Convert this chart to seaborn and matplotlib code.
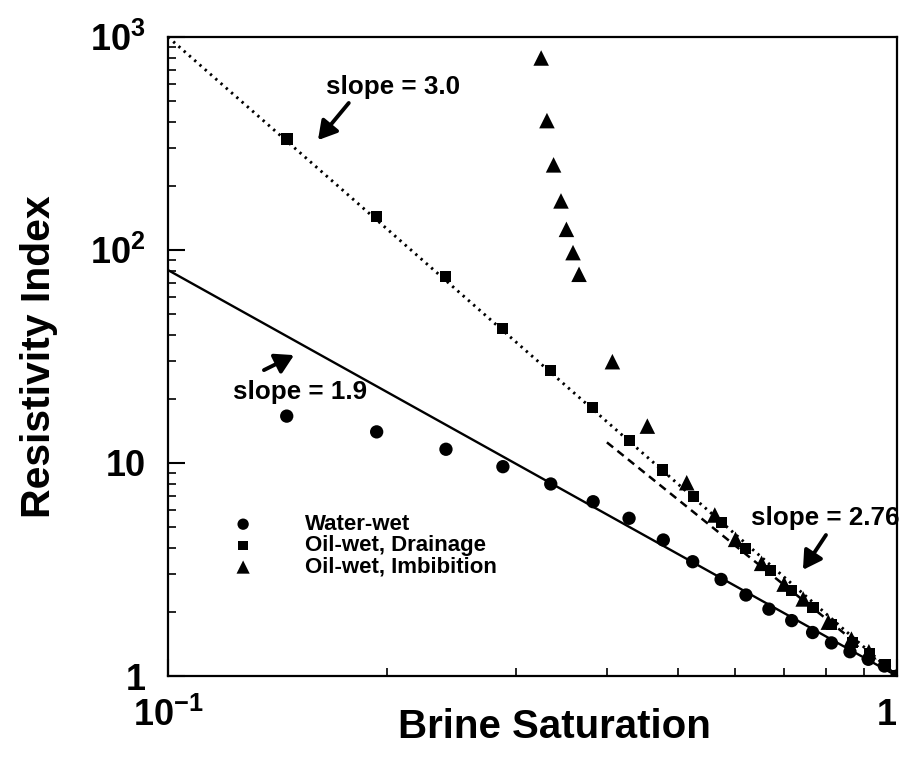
import numpy as np
import pandas as pd
import matplotlib
matplotlib.use("Agg")
import matplotlib.pyplot as plt
from matplotlib.ticker import FixedLocator, NullFormatter, LogLocator
import seaborn as sns

# ---------------- data ----------------
water_sw = [0.1455, 0.1933, 0.2406, 0.288, 0.335, 0.383, 0.429, 0.478, 0.5245, 0.5737,
            0.6206, 0.6673, 0.7171, 0.766, 0.813, 0.862, 0.9135, 0.961, 1.0]
water_ri = [16.6, 14.0, 11.6, 9.61, 7.97, 6.58, 5.50, 4.35, 3.44, 2.84,
            2.40, 2.06, 1.82, 1.60, 1.43, 1.30, 1.198, 1.114, 1.0]

drain_sw = [0.1456, 0.1933, 0.240, 0.288, 0.335, 0.382, 0.4295, 0.477, 0.5255, 0.575,
            0.620, 0.670, 0.716, 0.767, 0.813, 0.869, 0.918, 0.963, 1.0]
drain_ri = [332, 143, 75, 42.9, 27.1, 18.2, 12.7, 9.27, 6.95, 5.24,
            3.97, 3.12, 2.51, 2.09, 1.75, 1.44, 1.27, 1.13, 1.0]

imb_sw = [0.325, 0.331, 0.338, 0.346, 0.352, 0.3594, 0.3663, 0.407, 0.4545, 0.5147,
          0.5624, 0.6005, 0.652, 0.700, 0.7435, 0.805, 0.866, 0.915, 1.0]
imb_ri = [797, 405, 251, 170, 125, 97.2, 76.9, 29.9, 14.9, 8.08,
          5.70, 4.38, 3.38, 2.70, 2.30, 1.79, 1.49, 1.30, 1.0]

# fitted lines (end points)
fit19_sw = [0.1, 1.0]
fit19_ri = [80.5, 1.0]
fit30_sw = [0.1, 1.0]
fit30_ri = [1000.0, 1.0]
fit276_sw = [0.40, 0.87]
fit276_ri = [12.5, 1.47]

series_labels = ["Water-wet", "Oil-wet, Drainage", "Oil-wet, Imbibition"]
ytick_vals = [1, 10, 100, 1000]
ytick_labels = ["1", "10", "10$^2$", "10$^3$"]
xtick_vals = [0.1, 1.0]
xtick_labels = ["10$^{-1}$", "1"]

# ---------------- style ----------------
sns.set_theme(style="ticks")
plt.rcParams["font.family"] = ["Liberation Sans", "DejaVu Sans"]
plt.rcParams["font.weight"] = "bold"
plt.rcParams["text.color"] = "black"
plt.rcParams["axes.labelcolor"] = "black"
plt.rcParams["xtick.color"] = "black"
plt.rcParams["ytick.color"] = "black"
plt.rcParams["mathtext.fontset"] = "custom"
plt.rcParams["mathtext.rm"] = "Liberation Sans:bold"
plt.rcParams["mathtext.it"] = "Liberation Sans:bold"
plt.rcParams["mathtext.bf"] = "Liberation Sans:bold"
plt.rcParams["mathtext.default"] = "rm"

fig = plt.figure(figsize=(9.02, 7.70), dpi=100)
ax = fig.add_axes([168/902, 1-676/770, (897-168)/902, (676-37)/770])

# lines
sns.lineplot(x=fit19_sw, y=fit19_ri, ax=ax, color="black", lw=1.7, legend=False)
sns.lineplot(x=fit30_sw, y=fit30_ri, ax=ax, color="black", lw=2.1, legend=False)
ax.lines[-1].set_linestyle((0, (0.8, 1.6)))
sns.lineplot(x=fit276_sw, y=fit276_ri, ax=ax, color="black", lw=1.8, legend=False)
ax.lines[-1].set_linestyle((0, (3.2, 2.2)))

# markers
sns.scatterplot(x=water_sw, y=water_ri, ax=ax, marker="o", s=92, color="black",
                edgecolor="none", label=series_labels[0], zorder=5)
sns.scatterplot(x=drain_sw, y=drain_ri, ax=ax, marker="s", s=64, color="black",
                edgecolor="none", label=series_labels[1], zorder=5)
sns.scatterplot(x=imb_sw, y=imb_ri, ax=ax, marker="^", s=125, color="black",
                edgecolor="none", label=series_labels[2], zorder=5)

ax.set_xscale("log")
ax.set_yscale("log")
ax.set_xlim(0.1, 1.0)
ax.set_ylim(1, 1000)

# ticks
ax.xaxis.set_major_locator(FixedLocator(xtick_vals))
ax.set_xticklabels(xtick_labels)
ax.xaxis.set_minor_locator(LogLocator(base=10, subs=np.arange(2, 10)))
ax.xaxis.set_minor_formatter(NullFormatter())
ax.yaxis.set_major_locator(FixedLocator(ytick_vals))
ax.set_yticklabels(ytick_labels)
ax.yaxis.set_minor_locator(LogLocator(base=10, subs=np.arange(2, 10)))
ax.yaxis.set_minor_formatter(NullFormatter())
ax.tick_params(axis="both", which="major", direction="in", length=12, width=1.5,
               labelsize=26, colors="black")
ax.tick_params(axis="both", which="minor", direction="in", length=6, width=1.2)
ax.tick_params(axis="x", which="major", pad=16)
ax.tick_params(axis="y", which="major", pad=16)
for lab in ax.get_xticklabels() + ax.get_yticklabels():
    lab.set_fontweight("bold")
    lab.set_color("black")
xl = ax.get_xticklabels()
xl[-1].set_horizontalalignment("right")

for sp in ax.spines.values():
    sp.set_linewidth(1.6)
    sp.set_color("black")
    sp.set_visible(True)

ax.set_xlabel("Brine Saturation", fontsize=29, fontweight="bold", color="black")
ax.set_ylabel("Resistivity Index", fontsize=29.5, fontweight="bold", color="black")
ax.xaxis.set_label_coords(0.5295, -0.050)
ax.yaxis.set_label_coords(-0.151, 0.50)

# annotations
arrow_kw = dict(arrowstyle="-|>,head_length=0.55,head_width=0.32", color="black",
                lw=2.8, mutation_scale=20, shrinkA=0, shrinkB=0)
ax.annotate("", xy=(0.1606, 328), xytext=(0.177, 490), arrowprops=arrow_kw)
ax.text(0.2035, 582, "slope = 3.0", fontsize=18.7, fontweight="bold", ha="center", va="center")

ax.annotate("", xy=(0.1489, 32.1), xytext=(0.1354, 27.3), arrowprops=arrow_kw)
ax.text(0.1517, 21.5, "slope = 1.9", fontsize=18.7, fontweight="bold", ha="center", va="center")

ax.annotate("", xy=(0.743, 3.15), xytext=(0.799, 4.59), arrowprops=arrow_kw)
ax.text(0.797, 5.52, "slope = 2.76", fontsize=18.7, fontweight="bold", ha="center", va="center")

leg = ax.legend(loc="upper left", bbox_to_anchor=(0.0878, 0.2535), frameon=False,
                fontsize=16, handlelength=1.0, handletextpad=2.3, labelspacing=0.02,
                borderpad=0, borderaxespad=0, markerscale=0.85)
for t in leg.get_texts():
    t.set_fontweight("bold")
    t.set_color("black")

fig.savefig("out.png", dpi=100)
